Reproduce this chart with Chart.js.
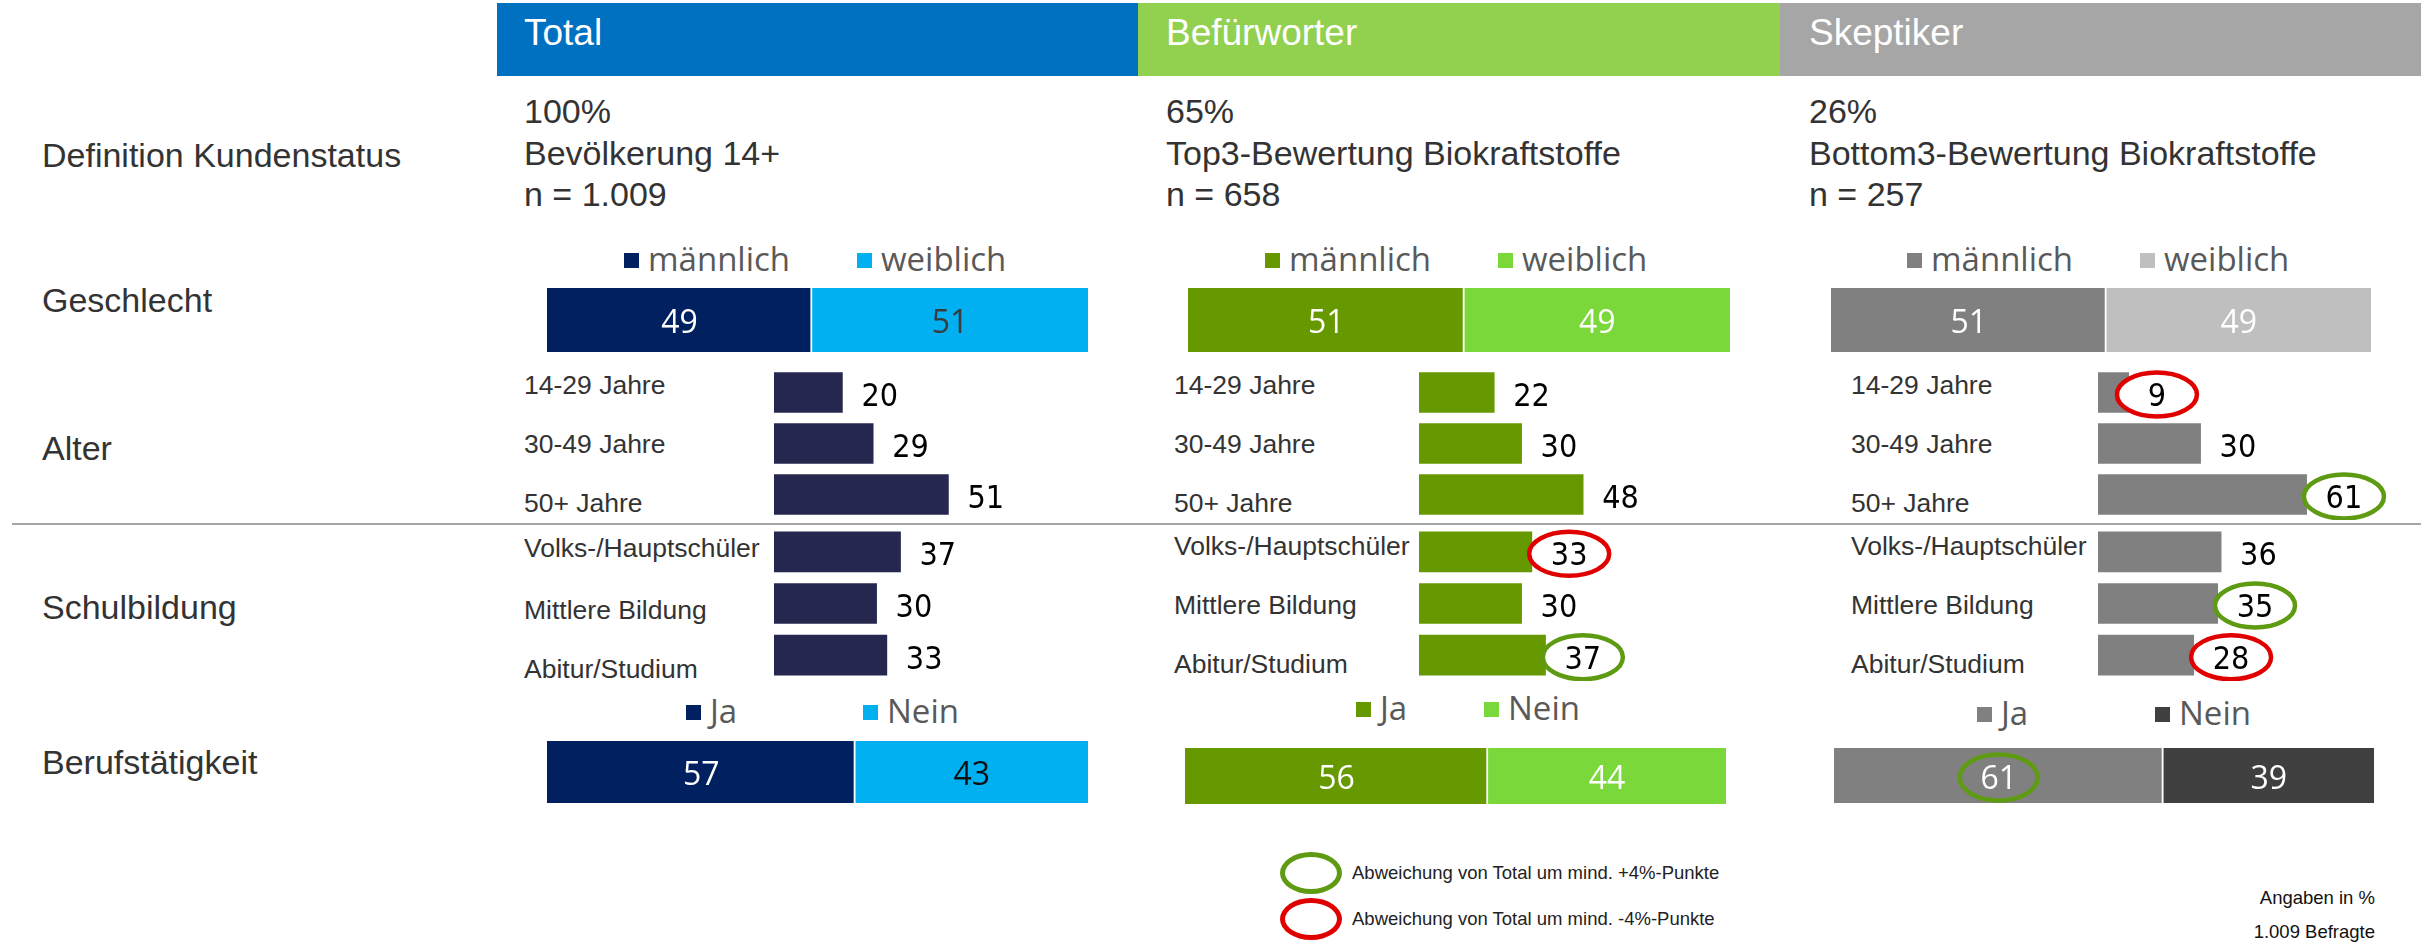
<!DOCTYPE html>
<html>
<head>
<meta charset="utf-8">
<script src="https://cdn.jsdelivr.net/npm/chart.js@4.4.1/dist/chart.umd.min.js"></script>
<style>
html,body{margin:0;padding:0;width:2433px;height:944px;overflow:hidden;background:#ffffff;}
body{position:relative;font-family:"Liberation Sans",Arial,sans-serif;}
.t{position:absolute;white-space:nowrap;}
.b{position:absolute;}
canvas{position:absolute;}
</style>
</head>
<body>
<script>
// ---------------- DATA ----------------
const groups = ["Total", "Befürworter", "Skeptiker"];
const shares = ["100%", "65%", "26%"];
const definitions = ["Bevölkerung 14+", "Top3-Bewertung Biokraftstoffe", "Bottom3-Bewertung Biokraftstoffe"];
const sampleSizes = ["n = 1.009", "n = 658", "n = 257"];
const rowLabels = ["Definition Kundenstatus", "Geschlecht", "Alter", "Schulbildung", "Berufstätigkeit"];
const genderLabels = ["männlich", "weiblich"];
const ageLabels = ["14-29 Jahre", "30-49 Jahre", "50+ Jahre"];
const eduLabels = ["Volks-/Hauptschüler", "Mittlere Bildung", "Abitur/Studium"];
const jobLabels = ["Ja", "Nein"];

const maleShare   = [49, 51, 51];
const femaleShare = [51, 49, 49];
const ageTotal = [20, 29, 51];
const ageBef   = [22, 30, 48];
const ageSkep  = [9, 30, 61];
const eduTotal = [37, 30, 33];
const eduBef   = [33, 30, 37];
const eduSkep  = [36, 35, 28];
const jobYes = [57, 56, 61];
const jobNo  = [43, 44, 39];

// deviation markers vs. Total (+1 green circle, -1 red circle)
const devAge = [[0, 0, 0], [0, 0, 0], [-1, 0, 1]];
const devEdu = [[0, 0, 0], [-1, 0, 1], [0, 1, -1]];
const devJob = [[0, 0], [0, 0], [1, 0]];

const legendNotes = ["Abweichung von Total um mind. +4%-Punkte", "Abweichung von Total um mind. -4%-Punkte"];
const footNotes = ["Angaben in %", "1.009 Befragte"];

// ---------------- STYLE / LAYOUT ----------------
const headerColors = ["#0070C0", "#92D050", "#A6A6A6"];
const maleColors   = ["#002060", "#669900", "#808080"];
const femaleColors = ["#00B0F0", "#7AD83A", "#BFBFBF"];
const barColors    = ["#25274F", "#669900", "#808080"];
const yesColors    = ["#002060", "#669900", "#808080"];
const noColors     = ["#00B0F0", "#7AD83A", "#404040"];
const genderTextColors = [["#ffffff", "#3a3a3a"], ["#ffffff", "#ffffff"], ["#ffffff", "#ffffff"]];
const jobTextColors    = [["#ffffff", "#111111"], ["#ffffff", "#ffffff"], ["#ffffff", "#ffffff"]];
const GREEN = "#5E9B12", RED = "#E00000";
const TXT = "#333333", LEG = "#595959";

const cols = [
  {hx0:497, hx1:1138, tx:524,  cx:524,  zero:774,  g:[547,1088],  gl:[624,857],   j:[547,1088,741,62],  jl:[686,863],   jcy:713, ey:[548,610,669]},
  {hx0:1138,hx1:1780, tx:1166, cx:1174, zero:1419, g:[1188,1730], gl:[1265,1498], j:[1185,1726,748,56], jl:[1356,1484], jcy:710, ey:[546,605,664]},
  {hx0:1780,hx1:2421, tx:1809, cx:1851, zero:2098, g:[1831,2371], gl:[1907,2140], j:[1834,2374,748,55], jl:[1977,2155], jcy:715, ey:[546,605,664]}
];
const ageY = [385, 444, 503];
const rowY = [155, 300, 448, 607, 762];

const FONT = '"Liberation Sans", Arial, sans-serif';
const LFONT = '"Open Sans", "Noto Sans", sans-serif';

// ---------------- HELPERS ----------------
function addText(txt, x, cy, size, color, opt) {
  opt = opt || {};
  const d = document.createElement('div');
  d.className = 't';
  d.textContent = txt;
  const lh = Math.round(size * 1.4);
  let s = `top:${cy - lh / 2}px;font-size:${size}px;line-height:${lh}px;color:${color};`;
  s += opt.right ? `right:${2433 - x}px;` : `left:${x}px;`;
  if (opt.font) s += `font-family:${opt.font};`;
  d.style.cssText = s;
  document.body.appendChild(d);
}
function addBox(x, y, w, h, css) {
  const d = document.createElement('div');
  d.className = 'b';
  d.style.cssText = `left:${x}px;top:${y}px;width:${w}px;height:${h}px;` + css;
  document.body.appendChild(d);
}
function makeCanvas(x, y, w, h) {
  const c = document.createElement('canvas');
  c.width = w; c.height = h;
  c.style.cssText = `left:${x}px;top:${y}px;width:${w}px;height:${h}px;`;
  document.body.appendChild(c);
  return c;
}

const valueLabelPlugin = {
  id: 'valueLabels',
  afterDatasetsDraw(chart, args, o) {
    const ctx = chart.ctx;
    chart.data.datasets.forEach((ds, di) => {
      const meta = chart.getDatasetMeta(di);
      meta.data.forEach((el, i) => {
        const txt = String(ds.data[i]);
        ctx.save();
        ctx.font = o.font;
        const w = ctx.measureText(txt).width;
        const cx = o.mode === 'inside' ? (el.x + el.base) / 2 : el.x + o.gap + w / 2;
        const cy = el.y + o.dy;
        const flag = o.flags ? ((o.flags[di] || [])[i] || 0) : 0;
        if (flag) {
          ctx.beginPath();
          ctx.ellipse(cx, cy, o.rx, o.ry, 0, 0, Math.PI * 2);
          if (o.fillCircle) { ctx.fillStyle = '#ffffff'; ctx.fill(); }
          ctx.lineWidth = 4.5;
          ctx.strokeStyle = flag > 0 ? GREEN : RED;
          ctx.stroke();
        }
        ctx.fillStyle = Array.isArray(o.colors) ? o.colors[di] : o.colors;
        ctx.textAlign = 'center';
        ctx.textBaseline = 'alphabetic';
        ctx.fillText(txt, cx, cy + o.capH / 2);
        ctx.restore();
      });
    });
  }
};

function stackedChart(canvas, vals, colors, textColors, flags) {
  return new Chart(canvas, {
    type: 'bar',
    data: {
      labels: [''],
      datasets: vals.map((v, k) => ({
        data: [v],
        backgroundColor: colors[k],
        borderColor: '#ffffff',
        borderWidth: k === 0 ? {left: 0, right: 2, top: 0, bottom: 0} : 0,
        borderSkipped: false,
        barPercentage: 1,
        categoryPercentage: 1
      }))
    },
    options: {
      indexAxis: 'y', responsive: false, animation: false, devicePixelRatio: 1,
      layout: {padding: 0},
      scales: {
        x: {display: false, stacked: true, min: 0, max: 100},
        y: {display: false, stacked: true}
      },
      plugins: {
        legend: {display: false}, tooltip: {enabled: false},
        valueLabels: {mode: 'inside', font: '32px ' + LFONT, capH: 22.8, dy: 2,
          colors: textColors, flags: flags, rx: 39, ry: 23, fillCircle: false}
      }
    },
    plugins: [valueLabelPlugin]
  });
}

function hbarChart(canvas, labels, vals, color, flags) {
  return new Chart(canvas, {
    type: 'bar',
    data: {labels: labels, datasets: [{data: vals, backgroundColor: color, barThickness: 40}]},
    options: {
      indexAxis: 'y', responsive: false, animation: false, devicePixelRatio: 1,
      layout: {padding: 0},
      scales: {x: {display: false, min: 0, max: 100}, y: {display: false}},
      plugins: {
        legend: {display: false}, tooltip: {enabled: false},
        valueLabels: {mode: 'outside', gap: 19, font: '32px "DejaVu Sans Condensed", "DejaVu Sans", sans-serif',
          capH: 23.3, dy: 2, colors: '#000000', flags: [flags], rx: 40, ry: 22, fillCircle: true}
      }
    },
    plugins: [valueLabelPlugin]
  });
}

// ---------------- BUILD ----------------
// row labels
rowLabels.forEach((t, i) => addText(t, 42, rowY[i], 34, TXT, {font: FONT}));

// separator line
addBox(12, 523, 2409, 2, 'background:#A6A6A6;');

const ageData = [ageTotal, ageBef, ageSkep];
const eduData = [eduTotal, eduBef, eduSkep];

cols.forEach((c, k) => {
  // header
  addBox(c.hx0, 3, c.hx1 - c.hx0, 73, `background:${headerColors[k]};`);
  addText(groups[k], c.tx, 33, 37, '#ffffff', {font: FONT});
  // definition
  addText(shares[k], c.tx, 111, 34, TXT, {font: FONT});
  addText(definitions[k], c.tx, 153, 34, TXT, {font: FONT});
  addText(sampleSizes[k], c.tx, 194, 34, TXT, {font: FONT});

  // gender legend
  [maleColors[k], femaleColors[k]].forEach((col, m) => {
    addBox(c.gl[m], 253, 15, 15, `background:${col};`);
    addText(genderLabels[m], c.gl[m] + 24, 259, 33, LEG, {font: LFONT});
  });
  // gender bar
  stackedChart(makeCanvas(c.g[0], 288, c.g[1] - c.g[0], 64),
    [maleShare[k], femaleShare[k]], [maleColors[k], femaleColors[k]], genderTextColors[k], null);

  // age
  ageLabels.forEach((t, i) => addText(t, c.cx, ageY[i], 26.5, TXT, {font: FONT}));
  hbarChart(makeCanvas(c.zero, 367, 342, 153), ageLabels, ageData[k], barColors[k], devAge[k]);

  // education
  eduLabels.forEach((t, i) => addText(t, c.cx, c.ey[i], 26.5, TXT, {font: FONT}));
  hbarChart(makeCanvas(c.zero, 526, 342, 155), eduLabels, eduData[k], barColors[k], devEdu[k]);

  // job legend
  [yesColors[k], noColors[k]].forEach((col, m) => {
    addBox(c.jl[m], c.jcy - 8, 15, 15, `background:${col};`);
    addText(jobLabels[m], c.jl[m] + 24, c.jcy - 2, 33, LEG, {font: LFONT});
  });
  // job bar
  stackedChart(makeCanvas(c.j[0], c.j[2], c.j[1] - c.j[0], c.j[3]),
    [jobYes[k], jobNo[k]], [yesColors[k], noColors[k]], jobTextColors[k], devJob[k].map(f => [f]));
});

// deviation legend
addBox(1280, 852, 62, 42, `box-sizing:border-box;border:5px solid ${GREEN};border-radius:50%;`);
addBox(1280, 898, 62, 42, `box-sizing:border-box;border:5px solid ${RED};border-radius:50%;`);
addText(legendNotes[0], 1352, 873, 18.5, '#222222', {font: FONT});
addText(legendNotes[1], 1352, 919, 18.5, '#222222', {font: FONT});

// foot notes
addText(footNotes[0], 2375, 898, 18.5, '#111111', {font: FONT, right: true});
addText(footNotes[1], 2375, 932, 18.5, '#111111', {font: FONT, right: true});
</script>
</body>
</html>
